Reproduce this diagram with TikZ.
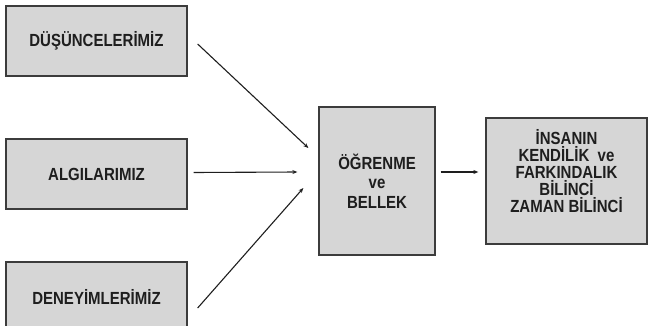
\documentclass[tikz,border=0pt]{standalone}
\usepackage{fontspec}
\setmainfont{Liberation Sans}
\usepackage{graphicx}
\usepackage{tikz}
\usetikzlibrary{arrows.meta,positioning,calc}
\definecolor{boxfill}{HTML}{D6D6D6}
\definecolor{boxline}{HTML}{3C3C3C}
\definecolor{ink}{HTML}{1E1E1E}
\newcommand{\stretchln}[1]{\scalebox{1}[1.17]{#1}}
\tikzset{>={Stealth[length=5pt,width=4pt]},box/.style={draw=boxline,line width=1.3pt,fill=boxfill,align=center,inner sep=0pt,text=ink,font=\fontsize{15}{17}\selectfont\bfseries},arr/.style={->,line width=1.1pt,ink}}

\begin{document}
\begin{tikzpicture}[x=1pt,y=-1pt]
\useasboundingbox (0,0) rectangle (650,326);
\clip (0,0) rectangle (650,326);
\node[box,minimum width=181pt,minimum height=70pt] (dusunce) at (96.5,41) {\stretchln{DÜŞÜNCELERİMİZ}};
\node[box,minimum width=181pt,minimum height=70pt] (algi) at (96.5,174) {\stretchln{ALGILARIMIZ}};
\node[box,minimum width=181pt,minimum height=70pt] (deney) at (96.5,297) {\stretchln{DENEYİMLERİMİZ}};
\node[box,minimum width=116pt,minimum height=148pt,font=\fontsize{15}{19.5}\selectfont\bfseries] (ogrenme) at (377,181) {\stretchln{ÖĞRENME}\\\stretchln{ve}\\\stretchln{BELLEK}};
\node[box,minimum width=161pt,minimum height=126pt] (insan) at (566.5,181) {\stretchln{İNSANIN}\\\stretchln{KENDİLİK\ \ ve}\\\stretchln{FARKINDALIK}\\\stretchln{BİLİNCİ}\\\stretchln{ZAMAN BİLİNCİ}\\[3pt]~};
% girdiler
\draw[arr] ([xshift=10pt,yshift=-3pt]dusunce.east) -- ([xshift=-10pt,yshift=33pt]ogrenme.west);
\draw[arr] ([xshift=6pt,yshift=1.5pt]algi.east) -- ([xshift=-21pt,yshift=9pt]ogrenme.west);
\draw[arr] ([xshift=10pt,yshift=-11pt]deney.east) -- ([xshift=-15pt,yshift=-7pt]ogrenme.west);
% cikti
\draw[arr] ([xshift=5pt,yshift=9pt]ogrenme.east) -- ([xshift=-7pt,yshift=9pt]insan.west);
\end{tikzpicture}
\end{document}
